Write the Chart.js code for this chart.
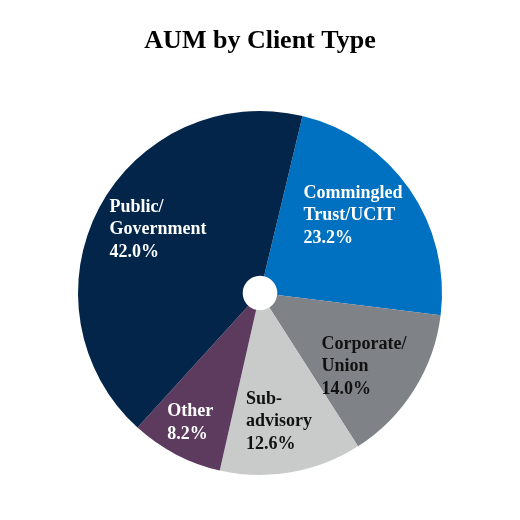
<!DOCTYPE html>
<html>
<head>
<meta charset="utf-8">
<script src="https://cdn.jsdelivr.net/npm/chart.js@4"></script>
<style>
html,body{margin:0;padding:0;background:#fff;}
#wrap{width:520px;height:520px;position:relative;}
</style>
</head>
<body>
<div id="wrap"><canvas id="c" width="520" height="520"></canvas></div>
<script>
const categories = ["Commingled Trust/UCIT", "Corporate/ Union", "Sub- advisory", "Other", "Public/ Government"];
const labelLines = [["Commingled", "Trust/UCIT"], ["Corporate/", "Union"], ["Sub-", "advisory"], ["Other"], ["Public/", "Government"]];
const values = [23.2, 14.0, 12.6, 8.2, 42.0];
const colors = ["#0070C0", "#7F8388", "#C9CBCB", "#5C3B5F", "#03254A"];
const textColors = ["#ffffff", "#111111", "#111111", "#ffffff", "#ffffff"];
// label placement: radius fraction and angle nudge (degrees) relative to slice mid-angle
const labelRadius = [0.665, 0.70, 0.715, 0.81, 0.66];
const labelAngleNudge = [-5, 3, 1.5, 0.7, 4];

const sliceLabels = {
  id: 'sliceLabels',
  afterDatasetsDraw(chart) {
    const ctx = chart.ctx;
    const meta = chart.getDatasetMeta(0);
    ctx.save();
    ctx.font = 'bold 18px "Liberation Serif", "Times New Roman", serif';
    ctx.textBaseline = 'middle';
    ctx.textAlign = 'left';
    const lh = 22.5;
    meta.data.forEach((arc, i) => {
      const p = arc.getProps(['x','y','startAngle','endAngle','outerRadius'], true);
      const mid = (p.startAngle + p.endAngle) / 2 + labelAngleNudge[i] * Math.PI / 180;
      const r = p.outerRadius * labelRadius[i];
      const cx = p.x + Math.cos(mid) * r;
      const cy = p.y + Math.sin(mid) * r;
      const lines = labelLines[i].concat([values[i].toFixed(1) + '%']);
      let w = 0;
      lines.forEach(l => { w = Math.max(w, ctx.measureText(l).width); });
      const x0 = cx - w / 2;
      const y0 = cy - (lines.length - 1) * lh / 2;
      ctx.fillStyle = textColors[i];
      lines.forEach((l, k) => ctx.fillText(l, x0, y0 + k * lh));
    });
    ctx.restore();
  }
};

new Chart(document.getElementById('c'), {
  type: 'doughnut',
  data: {
    labels: categories,
    datasets: [{
      data: values,
      backgroundColor: colors,
      borderWidth: 0,
      hoverOffset: 0
    }]
  },
  options: {
    responsive: false,
    animation: false,
    rotation: 13.5,
    cutout: '9.5%',
    layout: { padding: { left: 78, right: 78, top: 0, bottom: 45 } },
    plugins: {
      legend: { display: false },
      tooltip: { enabled: false },
      title: {
        display: true,
        text: 'AUM by Client Type',
        color: '#000',
        font: { family: '"Liberation Serif", "Times New Roman", serif', size: 26, weight: 'bold', lineHeight: 1.2 },
        padding: { top: 26, bottom: 53.8 }
      }
    }
  },
  plugins: [sliceLabels]
});
</script>
</body>
</html>
